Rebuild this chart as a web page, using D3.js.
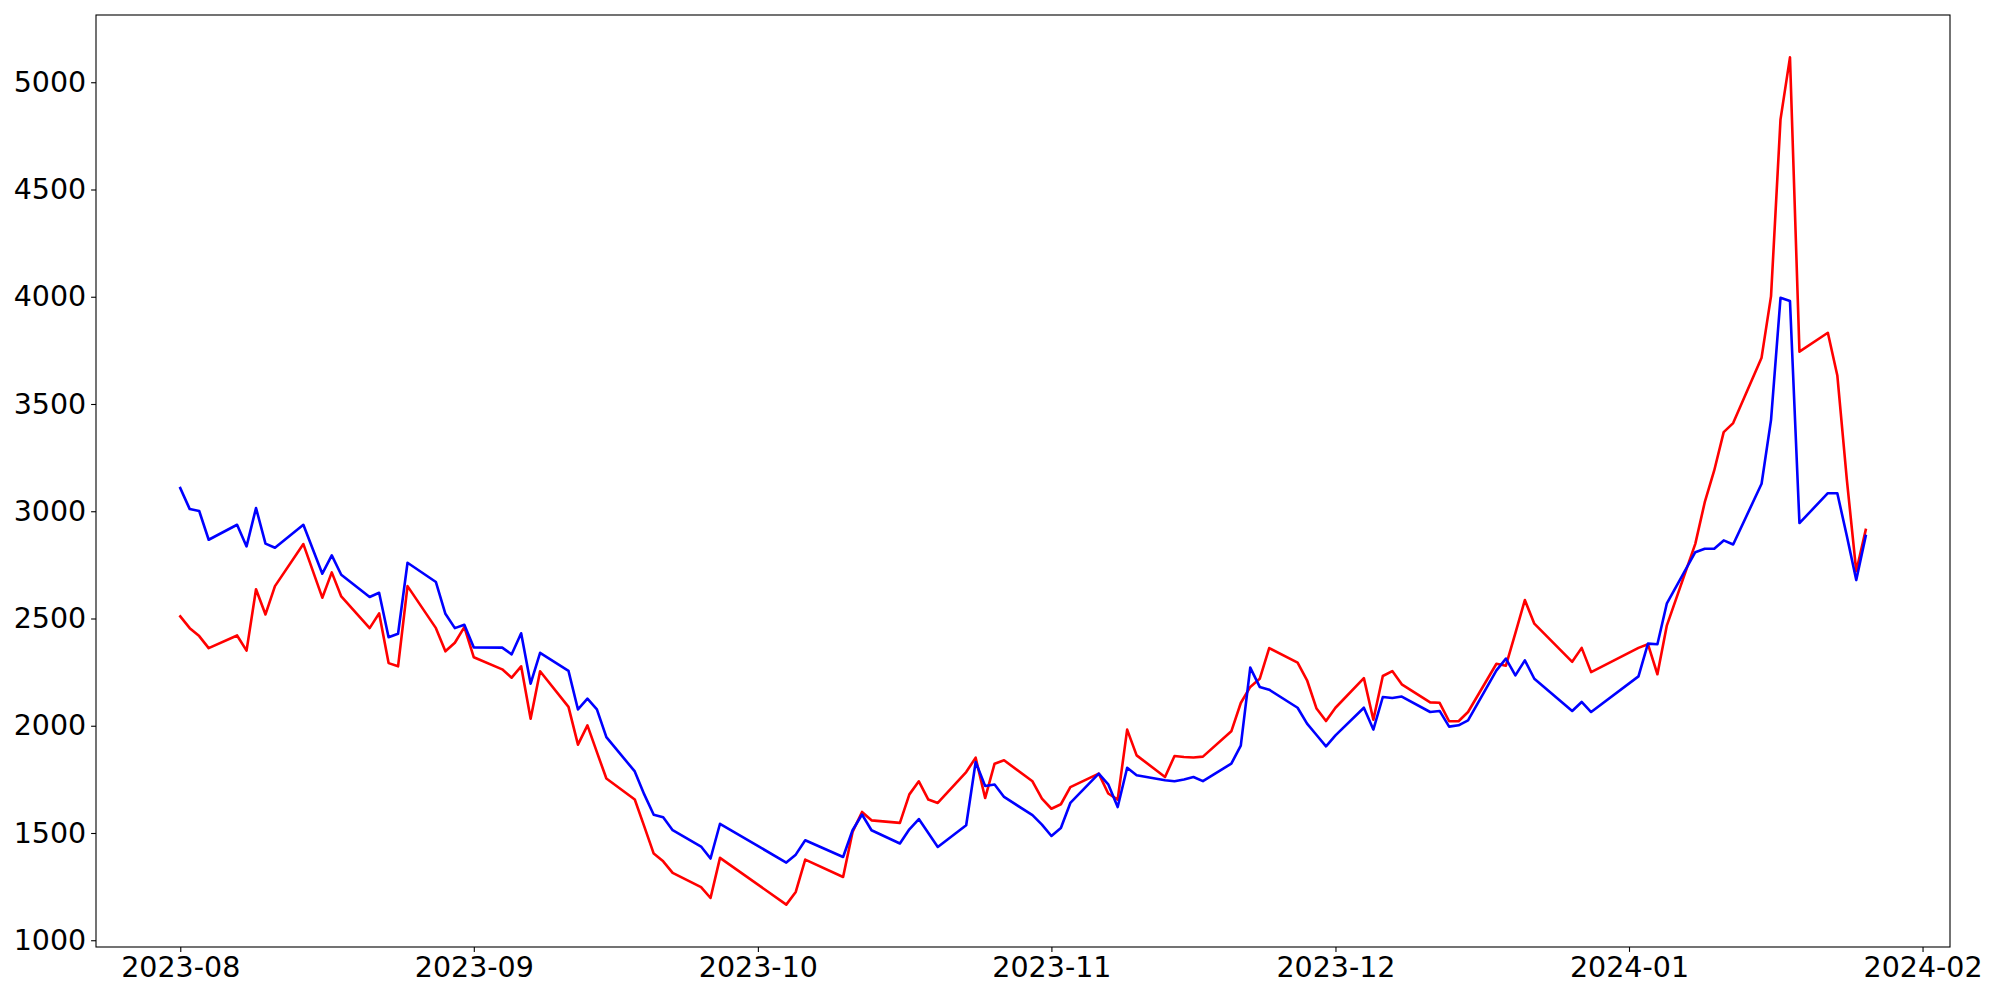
<!DOCTYPE html>
<html>
<head>
<meta charset="utf-8">
<script src="https://cdn.jsdelivr.net/npm/d3@7"></script>
<style>
  html, body { margin: 0; padding: 0; background: #ffffff; }
  svg { display: block; }
  text { font-family: "DejaVu Sans", sans-serif; fill: #000; }
</style>
</head>
<body>
<svg id="chart" width="2000" height="1000"></svg>
<script>
// ---------- data ----------
const dates = [
  "2023-08-01","2023-08-02","2023-08-03","2023-08-04","2023-08-07","2023-08-08","2023-08-09","2023-08-10","2023-08-11",
  "2023-08-14","2023-08-16","2023-08-17","2023-08-18","2023-08-21","2023-08-22","2023-08-23","2023-08-24","2023-08-25",
  "2023-08-28","2023-08-29","2023-08-30","2023-08-31","2023-09-01","2023-09-04","2023-09-05","2023-09-06","2023-09-07",
  "2023-09-08","2023-09-11","2023-09-12","2023-09-13","2023-09-14","2023-09-15","2023-09-18","2023-09-19","2023-09-20",
  "2023-09-21","2023-09-22","2023-09-25","2023-09-26","2023-09-27","2023-10-04","2023-10-05","2023-10-06","2023-10-10",
  "2023-10-11","2023-10-12","2023-10-13","2023-10-16","2023-10-17","2023-10-18","2023-10-19","2023-10-20","2023-10-23",
  "2023-10-24","2023-10-25","2023-10-26","2023-10-27","2023-10-30","2023-10-31","2023-11-01","2023-11-02","2023-11-03",
  "2023-11-06","2023-11-07","2023-11-08","2023-11-09","2023-11-10","2023-11-13","2023-11-14","2023-11-15","2023-11-16",
  "2023-11-17","2023-11-20","2023-11-21","2023-11-22","2023-11-23","2023-11-24","2023-11-27","2023-11-28","2023-11-29",
  "2023-11-30","2023-12-01","2023-12-04","2023-12-05","2023-12-06","2023-12-07","2023-12-08","2023-12-11","2023-12-12",
  "2023-12-13","2023-12-14","2023-12-15","2023-12-18","2023-12-19","2023-12-20","2023-12-21","2023-12-22","2023-12-26",
  "2023-12-27","2023-12-28","2024-01-02","2024-01-03","2024-01-04","2024-01-05","2024-01-08","2024-01-09","2024-01-10",
  "2024-01-11","2024-01-12","2024-01-15","2024-01-16","2024-01-17","2024-01-18","2024-01-19","2024-01-22","2024-01-23",
  "2024-01-24","2024-01-25","2024-01-26"
];
const blueValues = [
  3108,3010,3001,2867,2937,2836,3015,2849,2830,
  2937,2709,2794,2704,2600,2620,2413,2429,2760,
  2670,2522,2455,2471,2365,2364,2333,2431,2196,
  2340,2256,2076,2126,2076,1947,1787,1680,1585,
  1573,1513,1437,1381,1543,1362,1399,1466,1388,
  1513,1586,1513,1451,1517,1565,1500,1435,1536,
  1831,1719,1726,1668,1583,1539,1486,1523,1640,
  1777,1727,1621,1804,1769,1746,1741,1749,1761,
  1742,1823,1907,2271,2181,2168,2084,2010,1957,
  1904,1955,2084,1982,2134,2129,2136,2064,2069,
  1996,2002,2025,2258,2313,2235,2305,2219,2069,
  2111,2064,2230,2383,2380,2571,2809,2825,2825,
  2864,2845,3128,3426,3995,3980,2945,3084,3084,
  2886,2679,2885
];
const redValues = [
  2510,2455,2418,2362,2421,2350,2636,2519,2651,
  2847,2597,2715,2603,2455,2524,2292,2277,2651,
  2455,2347,2387,2460,2319,2263,2224,2277,2033,
  2254,2088,1912,2002,1877,1754,1656,1531,1404,
  1368,1314,1248,1197,1384,1166,1225,1376,1295,
  1505,1598,1559,1547,1680,1741,1656,1640,1784,
  1851,1663,1823,1839,1741,1660,1613,1634,1714,
  1777,1684,1656,1982,1862,1761,1859,1854,1852,
  1856,1974,2106,2181,2219,2362,2294,2212,2080,
  2022,2084,2222,2028,2232,2255,2193,2109,2107,
  2021,2021,2064,2289,2280,2432,2586,2476,2298,
  2363,2250,2363,2380,2240,2468,2848,3042,3190,
  3369,3411,3716,4003,4827,5116,3744,3832,3633,
  3150,2720,2913
];
const yTicks = [1000,1500,2000,2500,3000,3500,4000,4500,5000];
const xTickLabels = ["2023-08","2023-09","2023-10","2023-11","2023-12","2024-01","2024-02"];

// ---------- layout ----------
const W = 2000, H = 1000;
const plot = { left: 96, right: 1950, top: 15, bottom: 947 };
const fontPx = 28.5;

const parse = d3.utcParse("%Y-%m-%d");
const parseMonth = d3.utcParse("%Y-%m");
const dt = dates.map(parse);

const tMin = d3.min(dt), tMax = d3.max(dt);
const tPad = (tMax - tMin) * 0.05;
const x = d3.scaleUtc()
  .domain([new Date(+tMin - tPad), new Date(+tMax + tPad)])
  .range([plot.left, plot.right]);

const allV = blueValues.concat(redValues);
const vMin = d3.min(allV), vMax = d3.max(allV);
const vPad = (vMax - vMin) * 0.05;
const y = d3.scaleLinear()
  .domain([vMin - vPad, vMax + vPad])
  .range([plot.bottom, plot.top]);

const svg = d3.select("#chart");
svg.append("rect").attr("width", W).attr("height", H).attr("fill", "#fff");

// lines
const line = d3.line()
  .x((d, i) => x(dt[i]))
  .y(d => y(d));

svg.append("path")
  .datum(redValues)
  .attr("fill", "none")
  .attr("stroke", "#ff0000")
  .attr("stroke-width", 2.6)
  .attr("stroke-linejoin", "round")
  .attr("stroke-linecap", "square")
  .attr("d", line);

svg.append("path")
  .datum(blueValues)
  .attr("fill", "none")
  .attr("stroke", "#0000ff")
  .attr("stroke-width", 2.6)
  .attr("stroke-linejoin", "round")
  .attr("stroke-linecap", "square")
  .attr("d", line);

// axes
const yAxis = d3.axisLeft(y)
  .tickValues(yTicks)
  .tickSize(4.9)
  .tickPadding(4.9)
  .tickFormat(d3.format("d"));

const xAxis = d3.axisBottom(x)
  .tickValues(xTickLabels.map(parseMonth))
  .tickSize(4.9)
  .tickPadding(4.9)
  .tickFormat(d3.utcFormat("%Y-%m"));

const gy = svg.append("g").attr("transform", `translate(${plot.left},0)`).call(yAxis);
const gx = svg.append("g").attr("transform", `translate(0,${plot.bottom})`).call(xAxis);

[gx, gy].forEach(g => {
  g.select(".domain").remove();
  g.selectAll(".tick line").attr("stroke", "#000").attr("stroke-width", 1.1);
  g.selectAll(".tick text")
    .attr("font-family", "DejaVu Sans, sans-serif")
    .attr("font-size", fontPx)
    .attr("fill", "#000");
});

// frame
svg.append("rect")
  .attr("x", plot.left)
  .attr("y", plot.top)
  .attr("width", plot.right - plot.left)
  .attr("height", plot.bottom - plot.top)
  .attr("fill", "none")
  .attr("stroke", "#000")
  .attr("stroke-width", 1.1);
</script>
</body>
</html>
